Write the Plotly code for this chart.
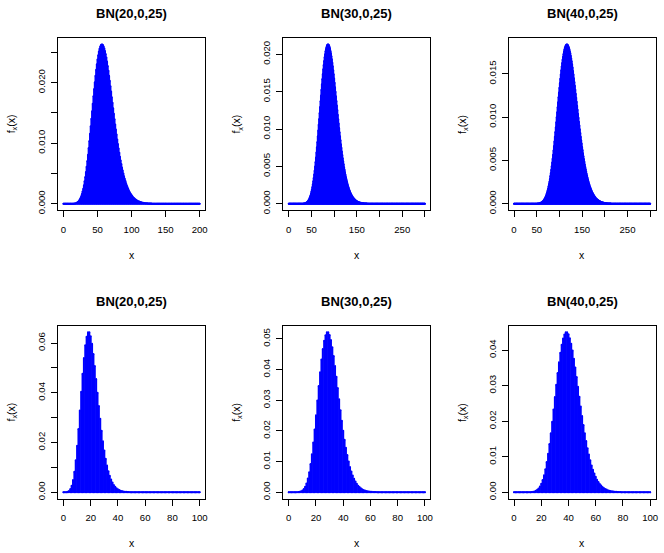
import math
import plotly.graph_objects as go

# Negative binomial panels: number of failures before the r-th success
titles = ["BN(20,0,25)", "BN(30,0,25)", "BN(40,0,25)",
          "BN(20,0,25)", "BN(30,0,25)", "BN(40,0,25)"]
sizes = [20, 30, 40, 20, 30, 40]
probs = [0.25, 0.25, 0.25, 0.5, 0.5, 0.5]
x_max = [200, 300, 300, 100, 100, 100]

# labelled axis ticks
x_ticks = [
    [0, 50, 100, 150, 200],
    [0, 50, 150, 250],
    [0, 50, 150, 250],
    [0, 20, 40, 60, 80, 100],
    [0, 20, 40, 60, 80, 100],
    [0, 20, 40, 60, 80, 100],
]
x_labels = [
    ["0", "50", "100", "150", "200"],
    ["0", "50", "150", "250"],
    ["0", "50", "150", "250"],
    ["0", "20", "40", "60", "80", "100"],
    ["0", "20", "40", "60", "80", "100"],
    ["0", "20", "40", "60", "80", "100"],
]
# tick marks drawn without a label
x_ticks_unlabelled = [[], [100, 200, 300], [100, 200, 300], [], [], []]

y_ticks = [
    [0, 0.010, 0.020],
    [0, 0.005, 0.010, 0.015, 0.020],
    [0, 0.005, 0.010, 0.015],
    [0, 0.02, 0.04, 0.06],
    [0, 0.01, 0.02, 0.03, 0.04, 0.05],
    [0, 0.01, 0.02, 0.03, 0.04],
]
y_labels = [
    ["0.000", "0.010", "0.020"],
    ["0.000", "0.005", "0.010", "0.015", "0.020"],
    ["0.000", "0.005", "0.010", "0.015"],
    ["0.00", "0.02", "0.04", "0.06"],
    ["0.00", "0.01", "0.02", "0.03", "0.04", "0.05"],
    ["0.00", "0.01", "0.02", "0.03", "0.04"],
]
y_ticks_unlabelled = [[0.005, 0.015, 0.025], [], [], [0.01, 0.03, 0.05], [], []]


def nbinom_pmf(k, r, p):
    return math.exp(math.lgamma(k + r) - math.lgamma(r) - math.lgamma(k + 1)
                    + r * math.log(p) + k * math.log(1 - p))


W, H = 664, 553
col_px = [(58.3, 206.0), (284.6, 432.3), (510.9, 658.6)]
row_px = [(38.3, 211.7), (328.3, 502.3)]
FONT = "Liberation Sans, Arial, Helvetica, sans-serif"
BLUE = "#0000FF"
LW = 2
TICK_FONT = dict(family=FONT, size=9.6, color="black")

fig = go.Figure()
annotations = []

for i in range(6):
    r_i, c_i = divmod(i, 3)
    left, right = col_px[c_i]
    top, bottom = row_px[r_i]
    ax = "" if i == 0 else str(i + 1)

    ks = list(range(x_max[i] + 1))
    pm = [nbinom_pmf(k, sizes[i], probs[i]) for k in ks]

    # vertical "h" style segments
    xs, ys = [], []
    for k, v in zip(ks, pm):
        xs += [k, k, None]
        ys += [0, v, None]
    fig.add_trace(go.Scatter(x=xs, y=ys, mode="lines",
                             line=dict(color=BLUE, width=LW),
                             xaxis="x" + ax, yaxis="y" + ax,
                             hoverinfo="skip", showlegend=False))
    # round end caps of each segment
    fig.add_trace(go.Scatter(x=ks + ks, y=[0] * len(ks) + pm, mode="markers",
                             marker=dict(color=BLUE, size=LW, line=dict(width=0)),
                             xaxis="x" + ax, yaxis="y" + ax,
                             hoverinfo="skip", showlegend=False))

    xr = x_max[i]
    ym = max(pm)
    common = dict(showline=True, mirror=True, linecolor="black", linewidth=1,
                  ticks="outside", ticklen=6, tickwidth=1, tickcolor="black",
                  showgrid=False, zeroline=False, tickfont=TICK_FONT)
    minor = dict(ticks="outside", ticklen=6, tickwidth=1, tickcolor="black",
                 showgrid=False, tickmode="array")
    fig.update_layout({
        "xaxis" + ax: dict(domain=[left / W, right / W],
                           range=[-0.04 * xr, 1.04 * xr],
                           tickmode="array", tickvals=x_ticks[i], ticktext=x_labels[i],
                           minor=dict(tickvals=x_ticks_unlabelled[i], **minor),
                           ticklabelstandoff=4,
                           anchor="y" + ax, **common),
        "yaxis" + ax: dict(domain=[1 - bottom / H, 1 - top / H],
                           range=[-0.04 * ym, 1.04 * ym],
                           tickmode="array", tickvals=y_ticks[i], ticktext=y_labels[i],
                           minor=dict(tickvals=y_ticks_unlabelled[i], **minor),
                           ticklabelstandoff=2,
                           tickangle=-90, anchor="x" + ax, **common),
    })

    cx = (left + right) / 2 / W
    cy = (top + bottom) / 2
    annotations.append(dict(text="<b>" + titles[i] + "</b>", x=cx, y=1 - (top - 24.5) / H,
                            xref="paper", yref="paper", showarrow=False,
                            xanchor="center", yanchor="middle",
                            font=dict(family=FONT, size=13, color="black")))
    annotations.append(dict(text="x", x=cx, y=1 - (bottom + 45) / H,
                            xref="paper", yref="paper", showarrow=False,
                            xanchor="center", yanchor="middle",
                            font=dict(family=FONT, size=10.5, color="black")))
    annotations.append(dict(text="f<sub>x</sub>(x)", x=(left - 46) / W, y=1 - cy / H,
                            xref="paper", yref="paper", showarrow=False, textangle=-90,
                            xanchor="center", yanchor="middle",
                            font=dict(family=FONT, size=10.5, color="black")))

fig.update_layout(width=W, height=H, margin=dict(l=0, r=0, t=0, b=0),
                  paper_bgcolor="white", plot_bgcolor="white",
                  annotations=annotations)

fig.write_html("out.html")
